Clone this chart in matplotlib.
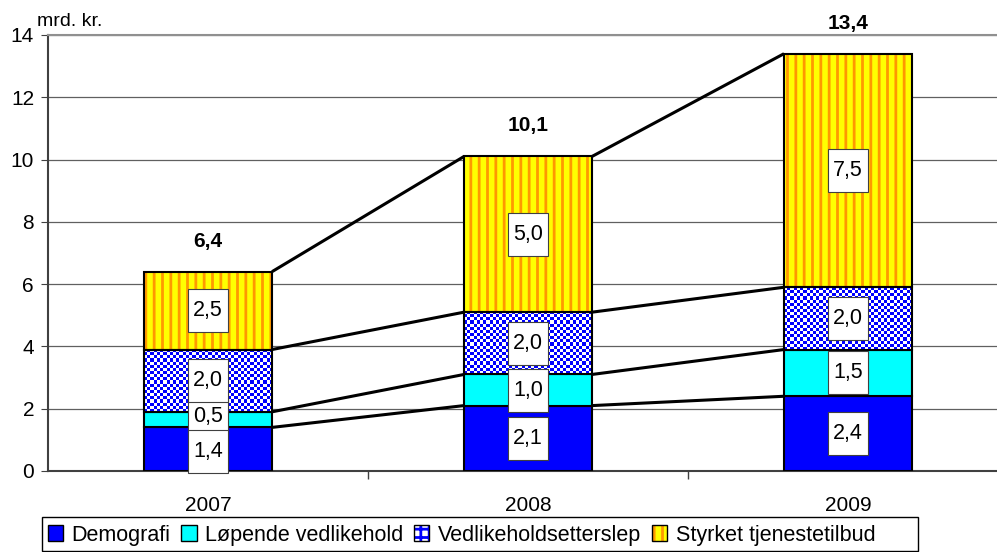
import numpy as np
import matplotlib
matplotlib.use("Agg")
import matplotlib.pyplot as plt
import matplotlib.transforms as mtransforms
from matplotlib.patches import Patch, Rectangle
from matplotlib.colors import ListedColormap
from matplotlib.legend_handler import HandlerTuple

plt.rcParams["font.family"] = ["Liberation Sans", "DejaVu Sans"]
plt.rcParams["hatch.linewidth"] = 2.0

# Data (mrd. kr.)
years = ["2007", "2008", "2009"]
demografi = [1.4, 2.1, 2.4]
lopende = [0.5, 1.0, 1.5]
etterslep = [2.0, 2.0, 2.0]
styrket = [2.5, 5.0, 7.5]
totals = [6.4, 10.1, 13.4]
series_names = ["Demografi", "Løpende vedlikehold", "Vedlikeholdsetterslep",
                "Styrket tjenestetilbud"]

series = [demografi, lopende, etterslep, styrket]
x = np.arange(len(years))
width = 0.4

fig = plt.figure(figsize=(9.97, 5.52), dpi=100)
ax = fig.add_axes([48 / 997, 81 / 552, 1 - 48 / 997, 436 / 552])

bottoms = np.zeros(len(years))
tops = []
label_centers = []
checker_cmap = ListedColormap(["white", "#0000FF"])
for i, vals in enumerate(series):
    vals = np.array(vals)
    if i == 0:
        ax.bar(x, vals, width, bottom=bottoms, color="#0000FF", edgecolor="black",
               linewidth=1.5, zorder=3)
    elif i == 1:
        ax.bar(x, vals, width, bottom=bottoms, color="#00FFFF", edgecolor="black",
               linewidth=1.5, zorder=3)
    elif i == 2:
        # blue/white checker texture
        for xi, b, v in zip(x, bottoms, vals):
            nx = 40
            ny = max(1, int(round(v / 0.1)))
            grid = (np.add.outer(np.arange(ny), np.arange(nx)) % 2)
            ax.imshow(grid, cmap=checker_cmap, interpolation="nearest", aspect="auto",
                      extent=(xi - width / 2, xi + width / 2, b, b + v), zorder=3)
        ax.bar(x, vals, width, bottom=bottoms, fill=False, edgecolor="black",
               linewidth=1.5, zorder=4)
    else:
        ax.bar(x, vals, width, bottom=bottoms, color="#FFFF00", edgecolor="#FF9900",
               linewidth=0, hatch="||", zorder=3)
        ax.bar(x, vals, width, bottom=bottoms, fill=False, edgecolor="black",
               linewidth=1.5, zorder=4)
    label_centers.append(bottoms + vals / 2)
    bottoms = bottoms + vals
    tops.append(bottoms.copy())

# connecting lines between bars
for t in tops:
    for j in range(len(years) - 1):
        ax.plot([x[j] + width / 2, x[j + 1] - width / 2], [t[j], t[j + 1]],
                color="black", lw=2.2, zorder=5, solid_capstyle="butt")

# value labels in white boxes (spread apart when too close)
gap = 1.12
box_w, box_h = 0.40, 0.43
for j in range(len(years)):
    pos = [label_centers[i][j] for i in range(len(series))]
    for k in range(1, len(pos)):
        if pos[k] - pos[k - 1] < gap:
            mid = (pos[k] + pos[k - 1]) / 2
            pos[k - 1] = mid - gap / 2
            pos[k] = mid + gap / 2
    for i in range(len(series)):
        val = series[i][j]
        z = 6 + val / 100  # smaller segments' boxes go underneath
        trans = fig.dpi_scale_trans + mtransforms.ScaledTranslation(x[j], pos[i], ax.transData)
        ax.add_patch(Rectangle((-box_w / 2, -box_h / 2), box_w, box_h, transform=trans,
                               facecolor="white", edgecolor="#404040", lw=0.8,
                               zorder=z, clip_on=False))
        ax.text(x[j], pos[i], f"{val:.1f}".replace(".", ","), ha="center", va="center",
                fontsize=15.5, zorder=z + 0.001, transform=ax.transData)

# totals
for j in range(len(years)):
    ax.annotate(f"{totals[j]:.1f}".replace(".", ","), (x[j], totals[j]),
                xytext=(0, 22), textcoords="offset points", ha="center", va="center",
                fontsize=15, fontweight="bold")

ax.set_ylim(0, 14)
ax.set_xlim(-0.5, 2.5 - 11 / 320)
ax.set_yticks(np.arange(0, 15, 2))
ax.yaxis.grid(True, color="#606060", lw=0.9, zorder=0)
ax.set_axisbelow(True)
ax.set_xticks(x)
ax.set_xticklabels(years)
ax.set_xticks([0.5, 1.5], minor=True)
ax.tick_params(axis="x", which="major", length=0, pad=18, labelsize=15)
ax.tick_params(axis="x", which="minor", length=6, color="#404040", width=1)
ax.tick_params(axis="y", length=5, color="#404040", labelsize=15, pad=5)
ax.spines["right"].set_visible(False)
ax.spines["top"].set_color("#909090")
ax.spines["top"].set_linewidth(1.5)
for s in ["left", "bottom"]:
    ax.spines[s].set_color("#404040")
    ax.spines[s].set_linewidth(1.5)

fig.text(37 / 997, 1 - 22 / 552, "mrd. kr.", fontsize=14, ha="left", va="center")

handles = [
    (Patch(facecolor="#0000FF", edgecolor="black"),),
    (Patch(facecolor="#00FFFF", edgecolor="black"),),
    (Patch(facecolor="white", edgecolor="#0000FF", hatch="++", lw=0),
     Patch(fill=False, edgecolor="black")),
    (Patch(facecolor="#FFFF00", edgecolor="#FF9900", hatch="||", lw=0),
     Patch(fill=False, edgecolor="black")),
]
leg = fig.legend(handles, series_names, loc="center left",
                 bbox_to_anchor=(48 / 997, 1 - 535 / 552), ncol=4,
                 handler_map={tuple: HandlerTuple(ndivide=1)},
                 fontsize=15.5, frameon=False, handlelength=0.7,
                 handleheight=0.7, handletextpad=0.4, columnspacing=0.5,
                 borderpad=0.0, borderaxespad=0)

# legend frame
fig.patches.append(Rectangle((42 / 997, 1 / 552), 876 / 997, 34 / 552,
                             transform=fig.transFigure, fill=False,
                             edgecolor="black", lw=1.0))

fig.savefig("out.png", dpi=100)
